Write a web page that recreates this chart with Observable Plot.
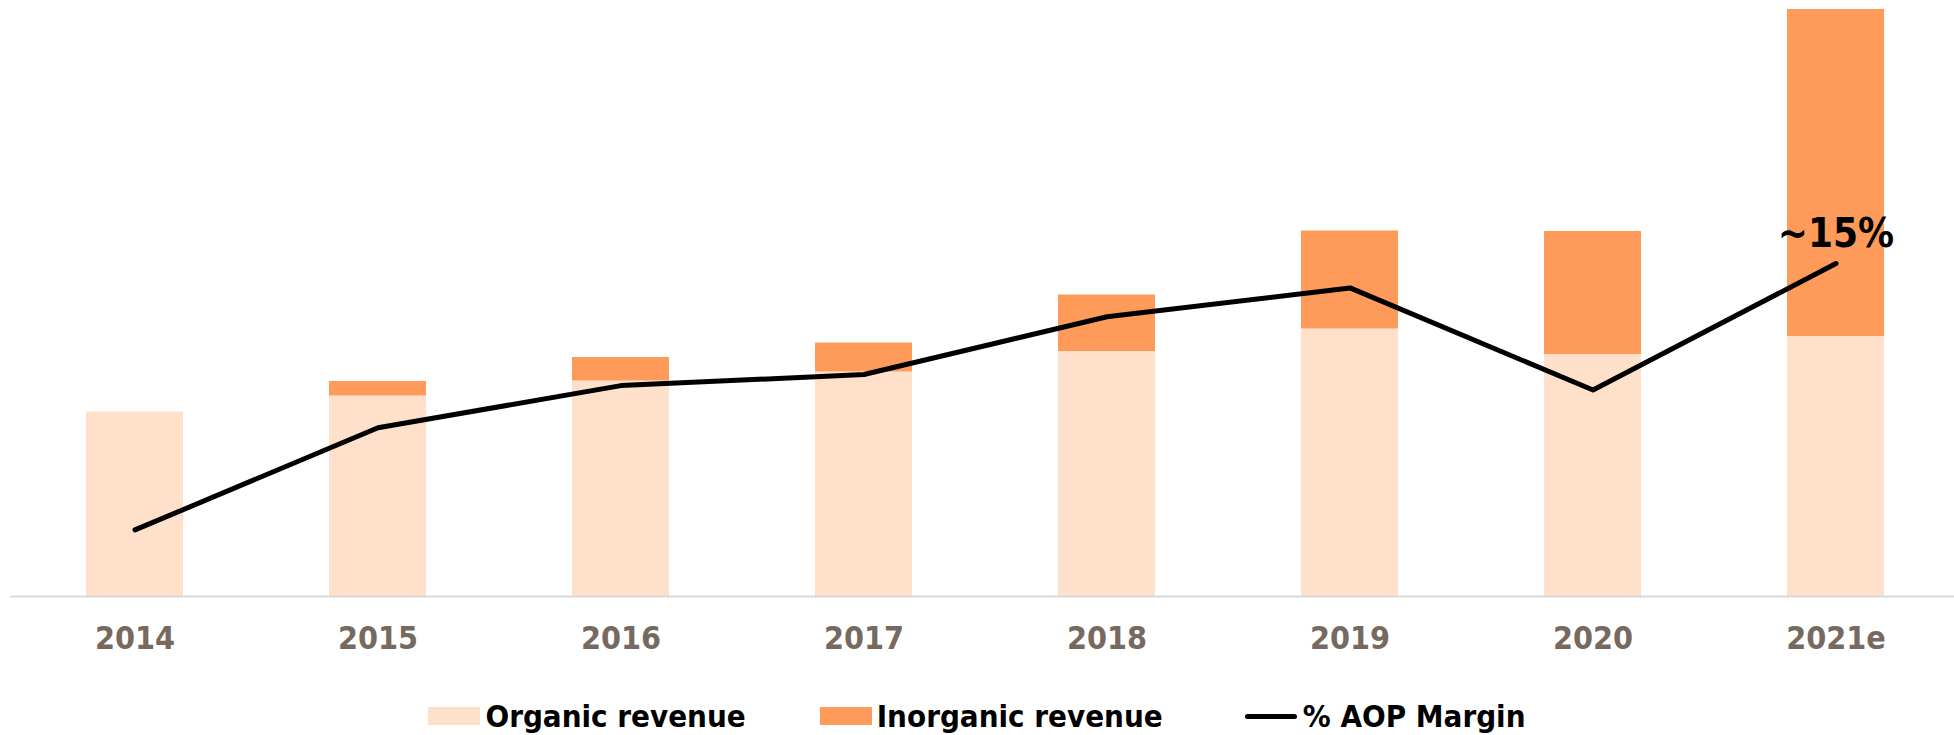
<!DOCTYPE html>
<html>
<head>
<meta charset="utf-8">
<script src="https://cdn.jsdelivr.net/npm/d3@7"></script>
<script src="https://cdn.jsdelivr.net/npm/@observablehq/plot@0.6"></script>
<style>
  html, body { margin: 0; padding: 0; background: #fff; }
  body { width: 1954px; height: 735px; overflow: hidden; font-family: "DejaVu Sans Condensed", "DejaVu Sans", sans-serif; }
  #chart svg { display: block; }
  .legend { display: flex; justify-content: center; align-items: center; height: 38px; margin-top: 27px;
            font-family: "DejaVu Sans Condensed", "DejaVu Sans", sans-serif; font-weight: bold; font-size: 31px; color: #000; }
  .item { display: flex; align-items: center; }
  .sw { width: 52px; height: 18px; margin-right: 5px; }
  .ln { width: 52px; height: 5px; border-radius: 3px; background: #000; margin-right: 6px; }
</style>
</head>
<body>
<div id="chart"></div>
<div class="legend">
  <div class="item" style="margin-right:74px"><div class="sw" style="background:#FFE0CB"></div><span>Organic revenue</span></div>
  <div class="item" style="margin-right:82px"><div class="sw" style="background:#FF9B5A"></div><span>Inorganic revenue</span></div>
  <div class="item"><div class="ln"></div><span>% AOP Margin</span></div>
</div>
<script>
// Data
const years = ["2014", "2015", "2016", "2017", "2018", "2019", "2020", "2021e"];
const organicRevenue = [36.9, 40.1, 43.1, 44.9, 49.0, 53.5, 48.4, 52.0];
const inorganicRevenue = [0, 2.9, 4.7, 5.8, 11.3, 19.6, 24.6, 65.4];
const aopMargin = [3.0, 7.6, 9.5, 10.0, 12.6, 13.9, 9.3, 15.0]; // %
const marginLabel = "~15%";

// secondary axis mapping: 15% margin sits at 66.6 revenue units on the primary axis
const marginToRevenue = m => m * (66.6 / 15);

const colOrganic = "#FFE0CB";
const colInorganic = "#FF9B5A";

const bars = [];
years.forEach((y, i) => {
  bars.push({year: y, type: "Organic revenue", value: organicRevenue[i]});
  bars.push({year: y, type: "Inorganic revenue", value: inorganicRevenue[i]});
});
const line = years.map((y, i) => ({year: y, m: aopMargin[i]}));
const last = line[line.length - 1];

const chart = Plot.plot({
  width: 1954,
  height: 670,
  marginLeft: 10,
  marginRight: 0,
  marginTop: 0,
  marginBottom: 74,
  style: {fontFamily: "'DejaVu Sans Condensed', 'DejaVu Sans', sans-serif", background: "#fff"},
  x: {type: "band", domain: years, range: [10, 1960], paddingInner: 0.6, paddingOuter: 0.3, label: null},
  y: {domain: [0, 117.4], range: [596, 9], axis: null},
  color: {domain: ["Organic revenue", "Inorganic revenue"], range: [colOrganic, colInorganic]},
  marks: [
    Plot.barY(bars, {x: "year", y: "value", fill: "type"}),
    Plot.ruleY([0], {stroke: "#d9d9d9", strokeWidth: 2}),
    Plot.axisX({tickSize: 0, tickPadding: 30, fontSize: 32, fontWeight: "bold", fill: "#766960", label: null}),
    Plot.line(line, {x: "year", y: d => marginToRevenue(d.m), stroke: "#000", strokeWidth: 5,
                     strokeLinecap: "round", strokeLinejoin: "round"}),
    Plot.text([last], {x: "year", y: d => marginToRevenue(d.m), text: () => marginLabel, dy: -17,
                       lineAnchor: "bottom", fontSize: 40, fontWeight: "bold", fill: "#000"})
  ]
});
document.getElementById("chart").appendChild(chart);
</script>
</body>
</html>
